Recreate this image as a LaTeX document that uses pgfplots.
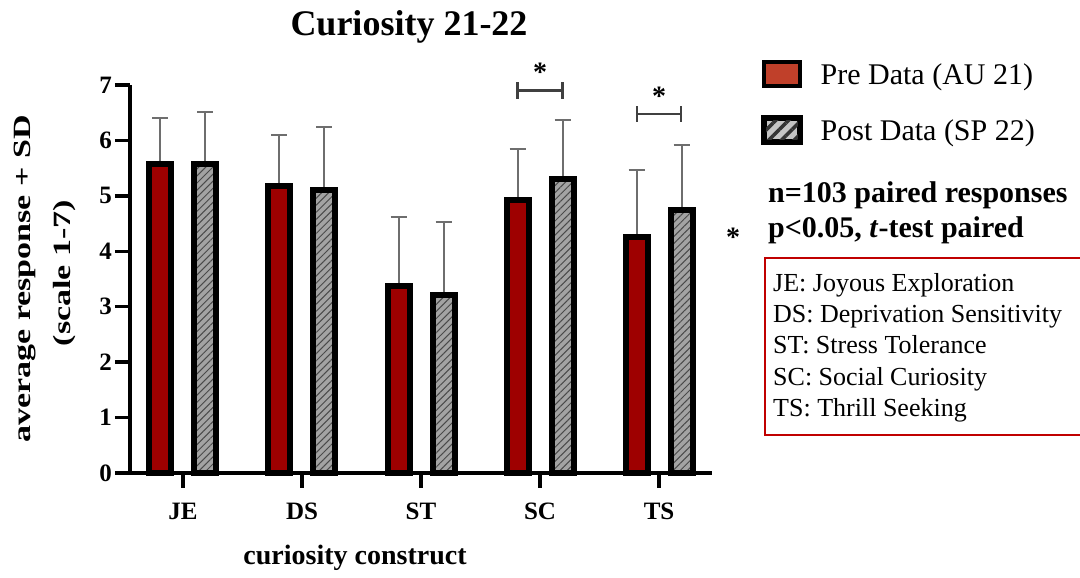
\documentclass[border=0pt]{standalone}
\usepackage{pgfplots}
\usepackage{pgfplotstable}
\pgfplotsset{compat=1.18}
\usetikzlibrary{patterns.meta}
\usepackage{fontspec}
\setmainfont{Liberation Serif}

\definecolor{prered}{HTML}{9E0000}
\definecolor{legred}{HTML}{C0402A}
\definecolor{postgray}{HTML}{A3A3A3}
\definecolor{leggray}{HTML}{C4C4C4}
\definecolor{hatch}{HTML}{4A4A4A}
\definecolor{errgray}{HTML}{6E6E6E}
\definecolor{brk}{HTML}{404040}
\definecolor{boxred}{HTML}{C00000}

% mean and SD (plus side only) per construct
\pgfplotstableread{
x pre preerr post posterr
0 5.57 0.84 5.57 0.94
1 5.18 0.92 5.11 1.13
2 3.37 1.24 3.21 1.32
3 4.93 0.92 5.30 1.06
4 4.25 1.22 4.74 1.17
}\curdata

\begin{document}
\begin{tikzpicture}[x=1pt,y=1pt]
\useasboundingbox (0,0) rectangle (1080,578);
\begin{axis}[
at={(130pt,105pt)}, anchor=south west,
scale only axis, width=582pt, height=388pt,
clip=false,
xmin=-0.445, xmax=4.445, ymin=0, ymax=7,
axis x line*=bottom, axis y line*=left,
axis line style={line width=4pt, black, -},
ybar, bar width=22pt,
xtick={0,1,2,3,4}, xticklabels={JE,DS,ST,SC,TS},
ytick={0,1,...,7},
minor tick num=0,
tick align=outside, major tick length=15pt,
tick style={line width=3.5pt, black},
/pgf/number format/assume math mode=true,
ticklabel style={font=\fontsize{25}{25}\selectfont\bfseries},
yticklabel style={inner sep=3pt},
xticklabel style={inner sep=6pt, yshift=-9pt},
legend style={at={(1.085,1.064)}, anchor=north west, draw=none, fill=none,
  font=\fontsize{30}{30}\selectfont, row sep=28pt, inner sep=0pt},
legend cell align=left,
]
% error bars first, so the bar borders cover their feet
\addplot[bar shift=-22.5pt, draw=none, fill=none, forget plot,
  error bars/.cd, y dir=plus, y explicit,
  error bar style={line width=2pt, errgray},
  error mark options={line width=2pt, errgray, mark size=8pt, rotate=90}]
  table[x=x, y=pre, y error=preerr] {\curdata};
\addplot[bar shift=22.5pt, draw=none, fill=none, forget plot,
  error bars/.cd, y dir=plus, y explicit,
  error bar style={line width=2pt, errgray},
  error mark options={line width=2pt, errgray, mark size=8pt, rotate=90}]
  table[x=x, y=post, y error=posterr] {\curdata};

\addplot[bar shift=-22.5pt, draw=black, line width=6pt, fill=prered,
  legend image code/.code={\draw[line width=4pt, black, fill=legred] (0pt,-12pt) rectangle (36pt,12pt);
    \path (52pt,0pt);}]
  table[x=x, y=pre] {\curdata};
\addlegendentry{Pre Data (AU 21)}
\addplot[bar shift=22.5pt, draw=black, line width=6pt,
  preaction={fill=postgray},
  pattern={Lines[angle=45, distance=5pt, line width=1pt]}, pattern color=hatch,
  legend image code/.code={\draw[line width=4pt, black, preaction={fill=leggray},
    pattern={Lines[angle=45, distance=9pt, line width=3.5pt]}, pattern color=black!80] (0pt,-12pt) rectangle (36pt,12pt);
    \path (52pt,0pt);}]
  table[x=x, y=post] {\curdata};
\addlegendentry{Post Data (SP 22)}

% significance brackets
\draw[brk, line width=2.5pt] (axis cs:2.811,6.90) -- (axis cs:3.189,6.90);
\draw[brk, line width=2.5pt] (axis cs:2.811,6.75) -- (axis cs:2.811,7.06);
\draw[brk, line width=2.5pt] (axis cs:3.189,6.75) -- (axis cs:3.189,7.06);
\node[anchor=base, font=\fontsize{28}{28}\selectfont\bfseries] at (axis cs:3,7.06) {*};
\draw[brk, line width=2.5pt] (axis cs:3.815,6.48) -- (axis cs:4.185,6.48);
\draw[brk, line width=2.5pt] (axis cs:3.815,6.34) -- (axis cs:3.815,6.62);
\draw[brk, line width=2.5pt] (axis cs:4.185,6.34) -- (axis cs:4.185,6.62);
\node[anchor=base, font=\fontsize{28}{28}\selectfont\bfseries] at (axis cs:4,6.63) {*};
\end{axis}

\node[anchor=base, font=\fontsize{36}{36}\selectfont\bfseries] at (409,542) {Curiosity 21-22};
\node[anchor=base, font=\fontsize{28}{28}\selectfont\bfseries] at (355,13) {curiosity construct};
\node[rotate=90, font=\fontsize{34}{34}\selectfont\bfseries] at (25,299) {\scalebox{1}[0.73]{average response + SD}};
\node[rotate=90, font=\fontsize{34}{34}\selectfont\bfseries] at (65,305) {\scalebox{1}[0.73]{(scale 1-7)}};

\node[anchor=base west, font=\fontsize{30}{30}\selectfont\bfseries, inner sep=0pt] at (768,375) {n=103 paired responses};
\node[anchor=base west, font=\fontsize{30}{30}\selectfont\bfseries, inner sep=0pt] at (768,340) {p<0.05, \textit{t}-test paired};
\node[anchor=base, font=\fontsize{28}{28}\selectfont\bfseries] at (733,331) {*};

\draw[boxred, line width=1.5pt] (765,143) rectangle (1090,320);
\foreach \yy/\tt in {286/{JE: Joyous Exploration}, 255/{DS: Deprivation Sensitivity},
  224/{ST: Stress Tolerance}, 192/{SC: Social Curiosity}, 161/{TS: Thrill Seeking}}
  \node[anchor=base west, inner sep=0pt, font=\fontsize{26}{26}\selectfont] at (773,\yy) {\tt};
\end{tikzpicture}
\end{document}
